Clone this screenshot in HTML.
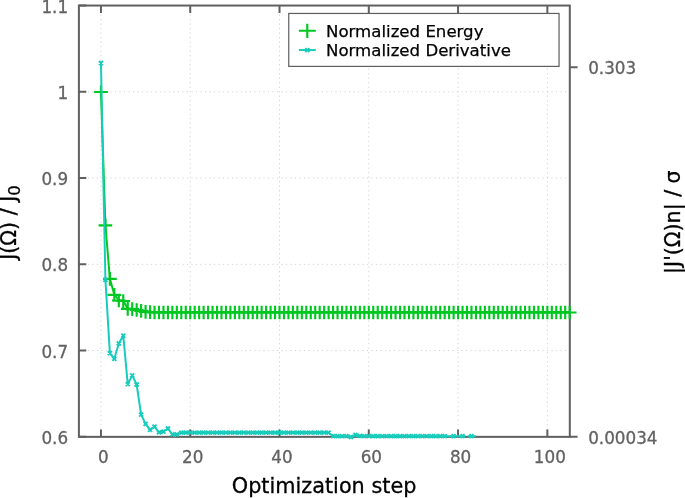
<!DOCTYPE html>
<html><head><meta charset="utf-8"><title>Optimization</title>
<style>html,body{margin:0;padding:0;background:#fff}svg{display:block;will-change:transform;transform:translateZ(0)}text{font-family:"DejaVu Sans","Liberation Sans",sans-serif}</style></head><body>
<svg width="685" height="498" viewBox="0 0 685 498">
<rect width="685" height="498" fill="#fff"/>
<path d="M100.95 5.55V436.85M190.23 5.55V436.85M279.51 5.55V436.85M368.79 5.55V436.85M458.07 5.55V436.85M547.35 5.55V436.85M78.90 350.59H569.80M78.90 264.33H569.80M78.90 178.07H569.80M78.90 91.81H569.80" fill="none" stroke="#d2d2d2" stroke-width="1" stroke-dasharray="1.2 3.3"/>
<rect x="78.90" y="5.55" width="490.90" height="431.30" fill="none" stroke="#606060" stroke-width="2"/>
<path d="M100.95 436.85v-7.4M100.95 5.55v7.4M190.23 436.85v-7.4M190.23 5.55v7.4M279.51 436.85v-7.4M279.51 5.55v7.4M368.79 436.85v-7.4M368.79 5.55v7.4M458.07 436.85v-7.4M458.07 5.55v7.4M547.35 436.85v-7.4M547.35 5.55v7.4M78.90 436.85h7.4M78.90 350.59h7.4M78.90 264.33h7.4M78.90 178.07h7.4M78.90 91.81h7.4M78.90 5.55h7.4M569.80 67.20h7.800000000000001M569.80 436.85h7.800000000000001" fill="none" stroke="#606060" stroke-width="2"/>
<polyline points="100.95,91.75 105.41,225.05 109.88,278.65 114.34,294.65 118.81,300.25 123.27,300.75 127.73,308.65 132.20,308.85 136.66,309.75 141.13,310.65 145.59,311.55 150.05,311.95 154.52,312.25 158.98,312.25 163.45,312.25 167.91,312.25 172.37,312.25 176.84,312.25 181.30,312.25 185.77,312.25 190.23,312.25 194.69,312.25 199.16,312.25 203.62,312.25 208.09,312.25 212.55,312.25 217.01,312.25 221.48,312.25 225.94,312.25 230.41,312.25 234.87,312.25 239.33,312.25 243.80,312.25 248.26,312.25 252.73,312.25 257.19,312.25 261.65,312.25 266.12,312.25 270.58,312.25 275.05,312.25 279.51,312.25 283.97,312.25 288.44,312.25 292.90,312.25 297.37,312.25 301.83,312.25 306.29,312.25 310.76,312.25 315.22,312.25 319.69,312.25 324.15,312.25 328.61,312.25 333.08,312.25 337.54,312.25 342.01,312.25 346.47,312.25 350.93,312.25 355.40,312.25 359.86,312.25 364.33,312.25 368.79,312.25 373.25,312.25 377.72,312.25 382.18,312.25 386.65,312.25 391.11,312.25 395.57,312.25 400.04,312.25 404.50,312.25 408.97,312.25 413.43,312.25 417.89,312.25 422.36,312.25 426.82,312.25 431.29,312.25 435.75,312.25 440.21,312.25 444.68,312.25 449.14,312.25 453.61,312.25 458.07,312.25 462.53,312.25 467.00,312.25 471.46,312.25 475.93,312.25 480.39,312.25 484.85,312.25 489.32,312.25 493.78,312.25 498.25,312.25 502.71,312.25 507.17,312.25 511.64,312.25 516.10,312.25 520.57,312.25 525.03,312.25 529.49,312.25 533.96,312.25 538.42,312.25 542.89,312.25 547.35,312.25 551.81,312.25 556.28,312.25 560.74,312.25 565.21,312.25 569.67,312.25" fill="none" stroke="#00c820" stroke-width="2" stroke-linejoin="round"/>
<polyline points="136.66,309.70 141.13,310.60 145.59,311.50 150.05,311.90 154.52,312.20 158.98,312.20 163.45,312.20 167.91,312.20 172.37,312.20 176.84,312.20 181.30,312.20 185.77,312.20 190.23,312.20 194.69,312.20 199.16,312.20 203.62,312.20 208.09,312.20 212.55,312.20 217.01,312.20 221.48,312.20 225.94,312.20 230.41,312.20 234.87,312.20 239.33,312.20 243.80,312.20 248.26,312.20 252.73,312.20 257.19,312.20 261.65,312.20 266.12,312.20 270.58,312.20 275.05,312.20 279.51,312.20 283.97,312.20 288.44,312.20 292.90,312.20 297.37,312.20 301.83,312.20 306.29,312.20 310.76,312.20 315.22,312.20 319.69,312.20 324.15,312.20 328.61,312.20 333.08,312.20 337.54,312.20 342.01,312.20 346.47,312.20 350.93,312.20 355.40,312.20 359.86,312.20 364.33,312.20 368.79,312.20 373.25,312.20 377.72,312.20 382.18,312.20 386.65,312.20 391.11,312.20 395.57,312.20 400.04,312.20 404.50,312.20 408.97,312.20 413.43,312.20 417.89,312.20 422.36,312.20 426.82,312.20 431.29,312.20 435.75,312.20 440.21,312.20 444.68,312.20 449.14,312.20 453.61,312.20 458.07,312.20 462.53,312.20 467.00,312.20 471.46,312.20 475.93,312.20 480.39,312.20 484.85,312.20 489.32,312.20 493.78,312.20 498.25,312.20 502.71,312.20 507.17,312.20 511.64,312.20 516.10,312.20 520.57,312.20 525.03,312.20 529.49,312.20 533.96,312.20 538.42,312.20 542.89,312.20 547.35,312.20 551.81,312.20 556.28,312.20 560.74,312.20 565.21,312.20 569.67,312.20" fill="none" stroke="#00c820" stroke-width="2.5" stroke-linejoin="round"/>
<path d="M94.10 92.00h13.7M100.95 85.15v13.7M98.56 225.30h13.7M105.41 218.45v13.7M103.03 278.90h13.7M109.88 272.05v13.7M107.49 294.90h13.7M114.34 288.05v13.7M111.96 300.50h13.7M118.81 293.65v13.7M116.42 301.00h13.7M123.27 294.15v13.7M120.88 308.90h13.7M127.73 302.05v13.7M125.35 309.10h13.7M132.20 302.25v13.7M129.81 310.00h13.7M136.66 303.15v13.7M134.28 310.90h13.7M141.13 304.05v13.7M138.74 311.80h13.7M145.59 304.95v13.7M143.20 312.20h13.7M150.05 305.35v13.7M147.67 312.50h13.7M154.52 305.65v13.7M152.13 312.50h13.7M158.98 305.65v13.7M156.60 312.50h13.7M163.45 305.65v13.7M161.06 312.50h13.7M167.91 305.65v13.7M165.52 312.50h13.7M172.37 305.65v13.7M169.99 312.50h13.7M176.84 305.65v13.7M174.45 312.50h13.7M181.30 305.65v13.7M178.92 312.50h13.7M185.77 305.65v13.7M183.38 312.50h13.7M190.23 305.65v13.7M187.84 312.50h13.7M194.69 305.65v13.7M192.31 312.50h13.7M199.16 305.65v13.7M196.77 312.50h13.7M203.62 305.65v13.7M201.24 312.50h13.7M208.09 305.65v13.7M205.70 312.50h13.7M212.55 305.65v13.7M210.16 312.50h13.7M217.01 305.65v13.7M214.63 312.50h13.7M221.48 305.65v13.7M219.09 312.50h13.7M225.94 305.65v13.7M223.56 312.50h13.7M230.41 305.65v13.7M228.02 312.50h13.7M234.87 305.65v13.7M232.48 312.50h13.7M239.33 305.65v13.7M236.95 312.50h13.7M243.80 305.65v13.7M241.41 312.50h13.7M248.26 305.65v13.7M245.88 312.50h13.7M252.73 305.65v13.7M250.34 312.50h13.7M257.19 305.65v13.7M254.80 312.50h13.7M261.65 305.65v13.7M259.27 312.50h13.7M266.12 305.65v13.7M263.73 312.50h13.7M270.58 305.65v13.7M268.20 312.50h13.7M275.05 305.65v13.7M272.66 312.50h13.7M279.51 305.65v13.7M277.12 312.50h13.7M283.97 305.65v13.7M281.59 312.50h13.7M288.44 305.65v13.7M286.05 312.50h13.7M292.90 305.65v13.7M290.52 312.50h13.7M297.37 305.65v13.7M294.98 312.50h13.7M301.83 305.65v13.7M299.44 312.50h13.7M306.29 305.65v13.7M303.91 312.50h13.7M310.76 305.65v13.7M308.37 312.50h13.7M315.22 305.65v13.7M312.84 312.50h13.7M319.69 305.65v13.7M317.30 312.50h13.7M324.15 305.65v13.7M321.76 312.50h13.7M328.61 305.65v13.7M326.23 312.50h13.7M333.08 305.65v13.7M330.69 312.50h13.7M337.54 305.65v13.7M335.16 312.50h13.7M342.01 305.65v13.7M339.62 312.50h13.7M346.47 305.65v13.7M344.08 312.50h13.7M350.93 305.65v13.7M348.55 312.50h13.7M355.40 305.65v13.7M353.01 312.50h13.7M359.86 305.65v13.7M357.48 312.50h13.7M364.33 305.65v13.7M361.94 312.50h13.7M368.79 305.65v13.7M366.40 312.50h13.7M373.25 305.65v13.7M370.87 312.50h13.7M377.72 305.65v13.7M375.33 312.50h13.7M382.18 305.65v13.7M379.80 312.50h13.7M386.65 305.65v13.7M384.26 312.50h13.7M391.11 305.65v13.7M388.72 312.50h13.7M395.57 305.65v13.7M393.19 312.50h13.7M400.04 305.65v13.7M397.65 312.50h13.7M404.50 305.65v13.7M402.12 312.50h13.7M408.97 305.65v13.7M406.58 312.50h13.7M413.43 305.65v13.7M411.04 312.50h13.7M417.89 305.65v13.7M415.51 312.50h13.7M422.36 305.65v13.7M419.97 312.50h13.7M426.82 305.65v13.7M424.44 312.50h13.7M431.29 305.65v13.7M428.90 312.50h13.7M435.75 305.65v13.7M433.36 312.50h13.7M440.21 305.65v13.7M437.83 312.50h13.7M444.68 305.65v13.7M442.29 312.50h13.7M449.14 305.65v13.7M446.76 312.50h13.7M453.61 305.65v13.7M451.22 312.50h13.7M458.07 305.65v13.7M455.68 312.50h13.7M462.53 305.65v13.7M460.15 312.50h13.7M467.00 305.65v13.7M464.61 312.50h13.7M471.46 305.65v13.7M469.08 312.50h13.7M475.93 305.65v13.7M473.54 312.50h13.7M480.39 305.65v13.7M478.00 312.50h13.7M484.85 305.65v13.7M482.47 312.50h13.7M489.32 305.65v13.7M486.93 312.50h13.7M493.78 305.65v13.7M491.40 312.50h13.7M498.25 305.65v13.7M495.86 312.50h13.7M502.71 305.65v13.7M500.32 312.50h13.7M507.17 305.65v13.7M504.79 312.50h13.7M511.64 305.65v13.7M509.25 312.50h13.7M516.10 305.65v13.7M513.72 312.50h13.7M520.57 305.65v13.7M518.18 312.50h13.7M525.03 305.65v13.7M522.64 312.50h13.7M529.49 305.65v13.7M527.11 312.50h13.7M533.96 305.65v13.7M531.57 312.50h13.7M538.42 305.65v13.7M536.04 312.50h13.7M542.89 305.65v13.7M540.50 312.50h13.7M547.35 305.65v13.7M544.96 312.50h13.7M551.81 305.65v13.7M549.43 312.50h13.7M556.28 305.65v13.7M553.89 312.50h13.7M560.74 305.65v13.7M558.36 312.50h13.7M565.21 305.65v13.7M562.82 312.50h13.7M569.67 305.65v13.7" fill="none" stroke="#00c820" stroke-width="2.15"/>
<polyline points="100.95,63.00 105.41,279.90 109.88,353.10 114.34,358.80 118.81,343.50 123.27,335.70 127.73,384.10 132.20,375.40 136.66,384.50 141.13,414.60 145.59,423.90 150.05,429.90 154.52,426.60 158.98,432.30 163.45,431.70 167.91,428.50 172.37,434.30 176.84,434.30 181.30,432.70 185.77,432.70 190.23,432.70 194.69,432.70 199.16,432.70 203.62,432.70 208.09,432.70 212.55,432.70 217.01,432.70 221.48,432.70 225.94,432.70 230.41,432.70 234.87,432.70 239.33,432.70 243.80,432.70 248.26,432.70 252.73,432.70 257.19,432.70 261.65,432.70 266.12,432.70 270.58,432.70 275.05,432.70 279.51,432.70 283.97,432.70 288.44,432.70 292.90,432.70 297.37,432.70 301.83,432.70 306.29,432.70 310.76,432.70 315.22,432.70 319.69,432.70 324.15,432.70 328.61,432.70 333.08,436.20 337.54,436.20 342.01,436.20 346.47,436.20 350.93,437.00 355.40,434.90 359.86,435.80 364.33,436.20 368.79,436.20 373.25,436.20 377.72,436.20 382.18,436.20 386.65,436.20 391.11,436.20 395.57,436.20 400.04,436.20 404.50,436.20 408.97,436.20 413.43,436.20 417.89,436.20 422.36,436.20 426.82,436.20 431.29,436.20 435.75,436.20 440.21,436.20 444.68,436.20 449.14,436.20 453.61,436.20 458.07,436.20 462.53,436.20 465.4,436.20" fill="none" stroke="#18ccbc" stroke-width="2" stroke-linejoin="round"/>
<path d="M467.6 436.20H475.7" fill="none" stroke="#18ccbc" stroke-width="2"/>
<path d="M98.95 61.00l4.0 4.0M98.95 65.00l4.0 -4.0M103.41 277.90l4.0 4.0M103.41 281.90l4.0 -4.0M107.88 351.10l4.0 4.0M107.88 355.10l4.0 -4.0M112.34 356.80l4.0 4.0M112.34 360.80l4.0 -4.0M116.81 341.50l4.0 4.0M116.81 345.50l4.0 -4.0M121.27 333.70l4.0 4.0M121.27 337.70l4.0 -4.0M125.73 382.10l4.0 4.0M125.73 386.10l4.0 -4.0M130.20 373.40l4.0 4.0M130.20 377.40l4.0 -4.0M134.66 382.50l4.0 4.0M134.66 386.50l4.0 -4.0M139.13 412.60l4.0 4.0M139.13 416.60l4.0 -4.0M143.59 421.90l4.0 4.0M143.59 425.90l4.0 -4.0M148.05 427.90l4.0 4.0M148.05 431.90l4.0 -4.0M152.52 424.60l4.0 4.0M152.52 428.60l4.0 -4.0M156.98 430.30l4.0 4.0M156.98 434.30l4.0 -4.0M161.45 429.70l4.0 4.0M161.45 433.70l4.0 -4.0M165.91 426.50l4.0 4.0M165.91 430.50l4.0 -4.0M170.37 432.30l4.0 4.0M170.37 436.30l4.0 -4.0M174.84 432.30l4.0 4.0M174.84 436.30l4.0 -4.0M179.30 430.70l4.0 4.0M179.30 434.70l4.0 -4.0M183.77 430.70l4.0 4.0M183.77 434.70l4.0 -4.0M188.23 430.70l4.0 4.0M188.23 434.70l4.0 -4.0M192.69 430.70l4.0 4.0M192.69 434.70l4.0 -4.0M197.16 430.70l4.0 4.0M197.16 434.70l4.0 -4.0M201.62 430.70l4.0 4.0M201.62 434.70l4.0 -4.0M206.09 430.70l4.0 4.0M206.09 434.70l4.0 -4.0M210.55 430.70l4.0 4.0M210.55 434.70l4.0 -4.0M215.01 430.70l4.0 4.0M215.01 434.70l4.0 -4.0M219.48 430.70l4.0 4.0M219.48 434.70l4.0 -4.0M223.94 430.70l4.0 4.0M223.94 434.70l4.0 -4.0M228.41 430.70l4.0 4.0M228.41 434.70l4.0 -4.0M232.87 430.70l4.0 4.0M232.87 434.70l4.0 -4.0M237.33 430.70l4.0 4.0M237.33 434.70l4.0 -4.0M241.80 430.70l4.0 4.0M241.80 434.70l4.0 -4.0M246.26 430.70l4.0 4.0M246.26 434.70l4.0 -4.0M250.73 430.70l4.0 4.0M250.73 434.70l4.0 -4.0M255.19 430.70l4.0 4.0M255.19 434.70l4.0 -4.0M259.65 430.70l4.0 4.0M259.65 434.70l4.0 -4.0M264.12 430.70l4.0 4.0M264.12 434.70l4.0 -4.0M268.58 430.70l4.0 4.0M268.58 434.70l4.0 -4.0M273.05 430.70l4.0 4.0M273.05 434.70l4.0 -4.0M277.51 430.70l4.0 4.0M277.51 434.70l4.0 -4.0M281.97 430.70l4.0 4.0M281.97 434.70l4.0 -4.0M286.44 430.70l4.0 4.0M286.44 434.70l4.0 -4.0M290.90 430.70l4.0 4.0M290.90 434.70l4.0 -4.0M295.37 430.70l4.0 4.0M295.37 434.70l4.0 -4.0M299.83 430.70l4.0 4.0M299.83 434.70l4.0 -4.0M304.29 430.70l4.0 4.0M304.29 434.70l4.0 -4.0M308.76 430.70l4.0 4.0M308.76 434.70l4.0 -4.0M313.22 430.70l4.0 4.0M313.22 434.70l4.0 -4.0M317.69 430.70l4.0 4.0M317.69 434.70l4.0 -4.0M322.15 430.70l4.0 4.0M322.15 434.70l4.0 -4.0M326.61 430.70l4.0 4.0M326.61 434.70l4.0 -4.0M331.08 434.20l4.0 4.0M331.08 438.20l4.0 -4.0M335.54 434.20l4.0 4.0M335.54 438.20l4.0 -4.0M340.01 434.20l4.0 4.0M340.01 438.20l4.0 -4.0M344.47 434.20l4.0 4.0M344.47 438.20l4.0 -4.0M348.93 435.00l4.0 4.0M348.93 439.00l4.0 -4.0M353.40 432.90l4.0 4.0M353.40 436.90l4.0 -4.0M357.86 433.80l4.0 4.0M357.86 437.80l4.0 -4.0M362.33 434.20l4.0 4.0M362.33 438.20l4.0 -4.0M366.79 434.20l4.0 4.0M366.79 438.20l4.0 -4.0M371.25 434.20l4.0 4.0M371.25 438.20l4.0 -4.0M375.72 434.20l4.0 4.0M375.72 438.20l4.0 -4.0M380.18 434.20l4.0 4.0M380.18 438.20l4.0 -4.0M384.65 434.20l4.0 4.0M384.65 438.20l4.0 -4.0M389.11 434.20l4.0 4.0M389.11 438.20l4.0 -4.0M393.57 434.20l4.0 4.0M393.57 438.20l4.0 -4.0M398.04 434.20l4.0 4.0M398.04 438.20l4.0 -4.0M402.50 434.20l4.0 4.0M402.50 438.20l4.0 -4.0M406.97 434.20l4.0 4.0M406.97 438.20l4.0 -4.0M411.43 434.20l4.0 4.0M411.43 438.20l4.0 -4.0M415.89 434.20l4.0 4.0M415.89 438.20l4.0 -4.0M420.36 434.20l4.0 4.0M420.36 438.20l4.0 -4.0M424.82 434.20l4.0 4.0M424.82 438.20l4.0 -4.0M429.29 434.20l4.0 4.0M429.29 438.20l4.0 -4.0M433.75 434.20l4.0 4.0M433.75 438.20l4.0 -4.0M438.21 434.20l4.0 4.0M438.21 438.20l4.0 -4.0M442.68 434.20l4.0 4.0M442.68 438.20l4.0 -4.0M451.61 434.20l4.0 4.0M451.61 438.20l4.0 -4.0M460.53 434.20l4.0 4.0M460.53 438.20l4.0 -4.0M469.46 434.20l4.0 4.0M469.46 438.20l4.0 -4.0" fill="none" stroke="#18ccbc" stroke-width="1.9"/>
<rect x="288.75" y="13.45" width="270.3" height="52.95" fill="#fff" stroke="#5e5e5e" stroke-width="1.2"/>
<path d="M298.9 30.75h16.9M307.3 23.8v14.1" fill="none" stroke="#00c820" stroke-width="2.15"/>
<path d="M298.9 50.05h16.9" fill="none" stroke="#18ccbc" stroke-width="2"/>
<path d="M305.3 48.05l4 4M305.3 52.05l4 -4" fill="none" stroke="#18ccbc" stroke-width="1.9"/>
<g font-size="16.6" fill="#000" stroke="#000" stroke-width="0.25"><text x="326.0" y="36.95">Normalized Energy</text><text x="326.0" y="56.0">Normalized Derivative</text></g>
<g font-size="16.75" fill="#626262" stroke="#626262" stroke-width="0.3">
<text x="103.45" y="462.5" text-anchor="middle">0</text>
<text x="192.73" y="462.5" text-anchor="middle">20</text>
<text x="282.01" y="462.5" text-anchor="middle">40</text>
<text x="371.29" y="462.5" text-anchor="middle">60</text>
<text x="460.57" y="462.5" text-anchor="middle">80</text>
<text x="549.85" y="462.5" text-anchor="middle">100</text>
<text x="68.1" y="443.95" text-anchor="end">0.6</text>
<text x="68.1" y="357.69" text-anchor="end">0.7</text>
<text x="68.1" y="271.43" text-anchor="end">0.8</text>
<text x="68.1" y="185.17" text-anchor="end">0.9</text>
<text x="68.1" y="98.91" text-anchor="end">1</text>
<text x="68.1" y="12.65" text-anchor="end">1.1</text>
<text x="588.2" y="74.3">0.303</text><text x="588.2" y="444.15">0.00034</text>
</g>
<text x="324.1" y="493.1" font-size="20.8" text-anchor="middle" fill="#000" stroke="#000" stroke-width="0.3">Optimization step</text>
<text transform="translate(15.9 222.5) rotate(-90)" font-size="20.6" text-anchor="middle" fill="#000" stroke="#000" stroke-width="0.3">J(Ω) / J<tspan font-size="16.6" dy="4.5">0</tspan></text>
<text transform="translate(679.6 222.1) rotate(-90)" font-size="20.6" text-anchor="middle" fill="#000" stroke="#000" stroke-width="0.3">|J'(Ω)n| / σ</text>
</svg></body></html>
